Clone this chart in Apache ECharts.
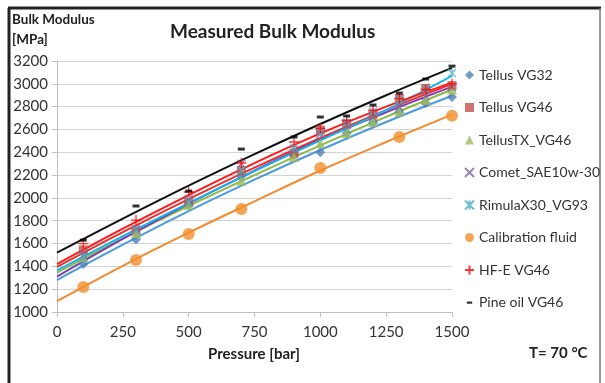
<!DOCTYPE html>
<html>
<head>
<meta charset="utf-8">
<script src="https://cdn.jsdelivr.net/npm/echarts@6/dist/echarts.min.js"></script>
<style>
  html, body { margin: 0; padding: 0; background: #fff; }
  #chart { width: 605px; height: 383px; }
</style>
</head>
<body>
<div id="chart"></div>
<script>
// measured points: [pressure bar, bulk modulus MPa]
const tellusVG32 = [[100, 1420], [300, 1635], [500, 1940], [700, 2190], [900, 2380], [1000, 2400], [1100, 2570], [1200, 2660], [1300, 2750], [1400, 2830], [1500, 2885]];
const tellusVG46 = [[100, 1545], [300, 1710], [500, 1960], [700, 2240], [900, 2390], [1000, 2595], [1100, 2650], [1200, 2730], [1300, 2870], [1400, 2960], [1500, 2985]];
const tellusTX = [[100, 1480], [300, 1690], [500, 1938], [700, 2150], [900, 2358], [1000, 2480], [1100, 2569], [1200, 2665], [1300, 2755], [1400, 2858], [1500, 2950]];
const comet = [[100, 1500], [300, 1730], [500, 1990], [700, 2300], [900, 2420], [1000, 2560], [1100, 2640], [1200, 2710], [1300, 2800], [1400, 2890], [1500, 2970]];
const rimula = [[100, 1480], [300, 1720], [500, 1960], [700, 2240], [900, 2440], [1000, 2570], [1100, 2660], [1200, 2760], [1300, 2860], [1400, 2960], [1500, 3095]];
const calibration = [[100, 1219], [300, 1456], [500, 1684], [700, 1903], [1000, 2262], [1300, 2534], [1500, 2720]];
const hfeVG46 = [[100, 1600], [300, 1806], [500, 2052], [700, 2306], [900, 2490], [1000, 2610], [1100, 2680], [1200, 2770], [1300, 2870], [1400, 2950], [1500, 3000]];
const pineVG46 = [[100, 1630], [300, 1929], [500, 2060], [700, 2428], [900, 2534], [1000, 2709], [1100, 2718], [1200, 2814], [1300, 2919], [1400, 3042], [1500, 3155]];

// trend lines read at these pressures
const trendX = [0, 250, 500, 750, 1000, 1250, 1500];
const trendVG32 = [1280, 1590, 1885, 2160, 2420, 2665, 2895];
const trendVG46 = [1395, 1700, 1990, 2265, 2525, 2770, 3000];
const trendTX = [1345, 1645, 1930, 2200, 2460, 2710, 2950];
const trendComet = [1310, 1640, 1950, 2240, 2510, 2750, 2975];
const trendRimula = [1365, 1665, 1955, 2235, 2505, 2770, 3070];
const trendCalib = [1095, 1405, 1695, 1970, 2240, 2490, 2730];
const trendHFE = [1420, 1730, 2025, 2305, 2565, 2800, 3010];
const trendPine = [1520, 1818, 2107, 2383, 2648, 2900, 3140];

const xTicks = [0, 250, 500, 750, 1000, 1250, 1500];
const yTicks = [1000, 1200, 1400, 1600, 1800, 2000, 2200, 2400, 2600, 2800, 3000, 3200];

const FONT = "Lato, 'Open Sans', sans-serif";

const fluids = [
  { name: "Tellus VG32", pts: tellusVG32, trend: trendVG32, color: "#4F81BD", line: "#4A9AE0", symbol: "diamond", size: 10 },
  { name: "Tellus VG46", pts: tellusVG46, trend: trendVG46, color: "#C0504D", line: "#E8312E", symbol: "rect", size: 9 },
  { name: "TellusTX_VG46", pts: tellusTX, trend: trendTX, color: "#9BBB59", line: "#8DB943", symbol: "triangle", size: 10 },
  { name: "Comet_SAE10w-30", pts: comet, trend: trendComet, color: "#8064A2", line: "#7B3FB5", symbol: "path://M0,0L10,10M10,0L0,10", size: 8, stroke: true },
  { name: "RimulaX30_VG93", pts: rimula, trend: trendRimula, color: "#4BACC6", line: "#14B4EE", symbol: "path://M0,0L10,10M10,0L0,10M5,0L5,10", size: 8, stroke: true },
  { name: "Calibration fluid", pts: calibration, trend: trendCalib, color: "#F28E2B", line: "#F28A30", symbol: "circle", size: 12 },
  { name: "HF-E VG46", pts: hfeVG46, trend: trendHFE, color: "#FF0000", line: "#FF1A1A", symbol: "path://M5,0L5,10M0,5L10,5", size: 10, stroke: true },
  { name: "Pine oil VG46", pts: pineVG46, trend: trendPine, color: "#000000", line: "#111111", symbol: "rect", size: [7, 3] }
];

let series = [];
fluids.forEach((f) => {
  series.push({
    name: f.name + " trend",
    type: "line",
    data: trendX.map((x, i) => [x, f.trend[i]]),
    smooth: 0.4,
    showSymbol: false,
    silent: true,
    lineStyle: { color: f.line, width: 2 },
    z: 2
  });
});
fluids.forEach((f) => {
  series.push({
    name: f.name,
    type: "scatter",
    data: f.pts,
    symbol: f.symbol,
    symbolSize: f.size,
    itemStyle: f.stroke
      ? { color: "rgba(0,0,0,0)", borderColor: f.color, borderWidth: 1.3 }
      : { color: f.color },
    z: 3
  });
});

const legendData = fluids.map((f) => {
  if (f.name === "Pine oil VG46") {
    return { name: f.name, icon: "path://M0,0L0,0.01M2,4h6v2.5h-6zM10,10L10,10.01" };
  }
  return { name: f.name };
});

const chart = echarts.init(document.getElementById("chart"));
chart.setOption({
  animation: false,
  backgroundColor: "#fff",
  textStyle: { fontFamily: FONT },
  grid: { left: 57, right: 153, top: 61, bottom: 71 },
  legend: {
    data: legendData,
    orient: "vertical",
    left: 459,
    top: 63,
    itemWidth: 9,
    itemHeight: 9,
    itemGap: 18.5,
    textStyle: { fontFamily: FONT, fontSize: 14, color: "#333" }
  },
  xAxis: {
    type: "value",
    min: 0,
    max: 1500,
    interval: 250,
    axisLine: { show: true, lineStyle: { color: "#bfbfbf" } },
    axisTick: { show: true, length: 5, lineStyle: { color: "#bfbfbf" } },
    splitLine: { show: false },
    axisLabel: { color: "#333", fontSize: 15, margin: 13,
      formatter: (v) => (xTicks.includes(v) ? String(v) : "") }
  },
  yAxis: {
    type: "value",
    min: 1000,
    max: 3200,
    interval: 200,
    axisLine: { show: true, lineStyle: { color: "#bfbfbf" } },
    axisTick: { show: true, length: 5, lineStyle: { color: "#bfbfbf" } },
    splitLine: { show: true, lineStyle: { color: "#d4d4d4", width: 1 } },
    axisLabel: { color: "#333", fontSize: 15, margin: 9,
      formatter: (v) => (yTicks.includes(v) ? String(v) : "") }
  },
  graphic: [
    { type: "line", shape: { x1: 8, y1: 8, x2: 601, y2: 8 }, style: { stroke: "#222", lineWidth: 3 } },
    { type: "line", shape: { x1: 9, y1: 8, x2: 9, y2: 383 }, style: { stroke: "#222", lineWidth: 3 } },
    { type: "line", shape: { x1: 600, y1: 8, x2: 600, y2: 383 }, style: { stroke: "#777", lineWidth: 1.5 } },
    { type: "text", left: 12, top: 10, style: { text: "Bulk Modulus\n[MPa]", font: "bold 13.5px " + FONT, lineHeight: 20, fill: "#222" } },
    { type: "text", left: 170, top: 22, style: { text: "Measured Bulk Modulus", font: "bold 19px " + FONT, fill: "#222" } },
    { type: "text", left: 208, top: 347, style: { text: "Pressure [bar]", font: "bold 15px " + FONT, fill: "#222" } },
    { type: "text", left: 529, top: 346, style: { text: "T= 70 °C", font: "bold 15px " + FONT, fill: "#222" } }
  ],
  series: series
});
</script>
</body>
</html>
